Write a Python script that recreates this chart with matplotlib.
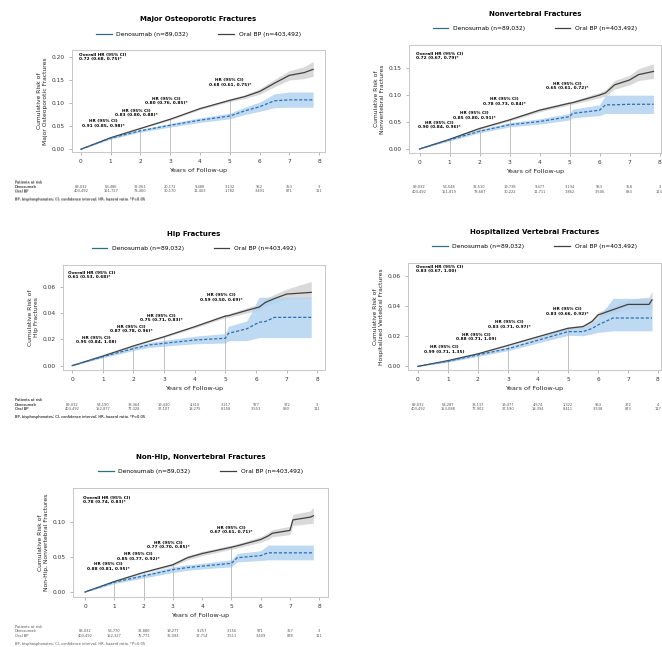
import numpy as np
import matplotlib.pyplot as plt
from matplotlib.lines import Line2D

# cumulative risk curves, Denosumab vs oral bisphosphonates, 5 fracture outcomes

W, H = 662, 647

years = [0, 1, 2, 3, 4, 5, 6, 7, 8]
marker_years = [1, 2, 3, 5]

# ---- Major osteoporotic fractures
mof_t = [0, 1, 2, 3, 4, 5, 5.5, 6, 6.5, 7, 7.5, 7.8]
mof_bp = [0, 0.025, 0.045, 0.065, 0.088, 0.106, 0.114, 0.125, 0.143, 0.160, 0.166, 0.173]
mof_bp_lo = [0, 0.024, 0.044, 0.063, 0.086, 0.103, 0.110, 0.119, 0.135, 0.150, 0.153, 0.158]
mof_bp_hi = [0, 0.026, 0.046, 0.067, 0.090, 0.109, 0.118, 0.131, 0.151, 0.170, 0.179, 0.190]
mof_den = [0, 0.024, 0.040, 0.052, 0.063, 0.072, 0.083, 0.092, 0.105, 0.107, 0.107, 0.107]
mof_den_lo = [0, 0.022, 0.037, 0.048, 0.058, 0.066, 0.075, 0.082, 0.090, 0.091, 0.091, 0.091]
mof_den_hi = [0, 0.026, 0.043, 0.056, 0.068, 0.078, 0.091, 0.102, 0.120, 0.124, 0.124, 0.124]

# ---- Nonvertebral fractures
nvf_t = [0, 1, 2, 3, 4, 5, 5.1, 6, 6.2, 6.5, 7, 7.3, 7.8]
nvf_bp = [0, 0.018, 0.038, 0.054, 0.072, 0.085, 0.086, 0.100, 0.104, 0.119, 0.128, 0.138, 0.144]
nvf_bp_lo = [0, 0.017, 0.036, 0.052, 0.069, 0.082, 0.083, 0.095, 0.098, 0.111, 0.119, 0.127, 0.131]
nvf_bp_hi = [0, 0.019, 0.040, 0.056, 0.075, 0.088, 0.089, 0.105, 0.110, 0.127, 0.137, 0.149, 0.158]
nvf_den = [0, 0.017, 0.033, 0.045, 0.051, 0.060, 0.066, 0.072, 0.082, 0.082, 0.083, 0.083, 0.083]
nvf_den_lo = [0, 0.015, 0.030, 0.041, 0.046, 0.054, 0.058, 0.062, 0.066, 0.066, 0.066, 0.066, 0.066]
nvf_den_hi = [0, 0.019, 0.036, 0.049, 0.056, 0.066, 0.074, 0.082, 0.100, 0.100, 0.100, 0.100, 0.100]

# ---- Hip fractures
hip_t = [0, 1, 2, 2.5, 3, 4, 5, 5.1, 5.7, 6.1, 6.3, 6.6, 7, 7.8]
hip_bp = [0, 0.0073, 0.015, 0.0185, 0.022, 0.0296, 0.0377, 0.038, 0.042, 0.0445, 0.048, 0.051, 0.0544, 0.0557]
hip_bp_lo = [0, 0.0069, 0.0145, 0.018, 0.0213, 0.0287, 0.0365, 0.0367, 0.040, 0.0422, 0.0452, 0.0478, 0.0508, 0.051]
hip_bp_hi = [0, 0.0077, 0.0155, 0.019, 0.0227, 0.0305, 0.0389, 0.0393, 0.044, 0.0468, 0.0508, 0.0542, 0.0582, 0.064]
hip_den = [0, 0.0068, 0.013, 0.0157, 0.017, 0.0195, 0.0208, 0.0246, 0.028, 0.033, 0.0335, 0.0367, 0.0367, 0.0367]
hip_den_lo = [0, 0.0060, 0.0115, 0.0138, 0.0148, 0.0166, 0.0172, 0.019, 0.019, 0.0213, 0.0213, 0.0213, 0.0213, 0.0213]
hip_den_hi = [0, 0.0076, 0.0145, 0.0176, 0.0192, 0.0224, 0.0244, 0.030, 0.034, 0.052, 0.052, 0.052, 0.052, 0.052]

# ---- Hospitalized vertebral fractures
hvf_t = [0, 1, 2, 3, 4, 5, 5.5, 5.8, 6, 6.5, 7, 7.7, 7.8]
hvf_bp = [0, 0.0038, 0.0083, 0.0139, 0.0196, 0.0252, 0.0263, 0.0297, 0.034, 0.0375, 0.041, 0.041, 0.044]
hvf_bp_lo = [0, 0.0036, 0.0079, 0.0134, 0.0189, 0.0243, 0.0252, 0.0283, 0.0322, 0.0352, 0.0380, 0.0380, 0.0380]
hvf_bp_hi = [0, 0.0040, 0.0087, 0.0144, 0.0203, 0.0261, 0.0274, 0.0311, 0.0358, 0.0398, 0.0440, 0.0460, 0.0500]
hvf_den = [0, 0.0034, 0.0076, 0.0117, 0.0173, 0.0230, 0.0230, 0.0250, 0.0274, 0.032, 0.032, 0.032, 0.032]
hvf_den_lo = [0, 0.0028, 0.0066, 0.0104, 0.0155, 0.0205, 0.0203, 0.0215, 0.0225, 0.0235, 0.0235, 0.0235, 0.0235]
hvf_den_hi = [0, 0.0040, 0.0086, 0.0130, 0.0191, 0.0255, 0.0257, 0.0285, 0.0320, 0.045, 0.045, 0.045, 0.045]

# ---- Non-hip, nonvertebral fractures
nhn_t = [0, 1, 2, 3, 3.5, 4, 5, 5.2, 6, 6.25, 6.4, 7, 7.1, 7.7, 7.8]
nhn_bp = [0, 0.015, 0.028, 0.039, 0.049, 0.055, 0.064, 0.066, 0.075, 0.080, 0.084, 0.088, 0.103, 0.107, 0.109]
nhn_bp_lo = [0, 0.014, 0.027, 0.037, 0.046, 0.052, 0.061, 0.063, 0.071, 0.075, 0.079, 0.082, 0.095, 0.098, 0.098]
nhn_bp_hi = [0, 0.016, 0.029, 0.041, 0.052, 0.058, 0.067, 0.069, 0.079, 0.085, 0.089, 0.094, 0.111, 0.116, 0.121]
nhn_den = [0, 0.014, 0.023, 0.032, 0.035, 0.037, 0.041, 0.049, 0.052, 0.056, 0.056, 0.056, 0.056, 0.056, 0.056]
nhn_den_lo = [0, 0.012, 0.020, 0.028, 0.031, 0.033, 0.036, 0.043, 0.045, 0.046, 0.046, 0.046, 0.046, 0.046, 0.046]
nhn_den_hi = [0, 0.016, 0.026, 0.036, 0.039, 0.041, 0.046, 0.055, 0.059, 0.067, 0.067, 0.067, 0.067, 0.067, 0.067]

# hazard ratio labels (overall, yr1, yr2, yr3, yr5)
mof_hr = ["0.72 (0.68, 0.75)*", "0.91 (0.85, 0.98)*", "0.83 (0.80, 0.88)*", "0.80 (0.76, 0.85)*", "0.68 (0.61, 0.75)*"]
nvf_hr = ["0.72 (0.67, 0.79)*", "0.90 (0.84, 0.96)*", "0.85 (0.80, 0.91)*", "0.78 (0.73, 0.84)*", "0.65 (0.61, 0.72)*"]
hip_hr = ["0.61 (0.53, 0.68)*", "0.95 (0.84, 1.08)", "0.87 (0.78, 0.96)*", "0.75 (0.71, 0.83)*", "0.59 (0.50, 0.69)*"]
hvf_hr = ["0.83 (0.67, 1.00)", "0.99 (0.71, 1.35)", "0.88 (0.71, 1.09)", "0.83 (0.71, 0.97)*", "0.83 (0.66, 0.92)*"]
nhn_hr = ["0.78 (0.74, 0.83)*", "0.88 (0.81, 0.95)*", "0.85 (0.77, 0.92)*", "0.77 (0.70, 0.85)*", "0.67 (0.61, 0.71)*"]

# patients at risk by year
mof_risk_den = ["89,032", "53,486", "32,063", "20,172", "9,488", "3,132", "952", "353", "3"]
mof_risk_bp = ["403,492", "151,727", "73,400", "30,170", "11,403", "1,782", "3,491", "871", "111"]
nvf_risk_den = ["89,032", "53,548", "32,510", "19,738", "9,477", "3,134", "953", "358", "3"]
nvf_risk_bp = ["403,492", "151,819", "73,687", "30,222", "11,711", "7,862", "3,506", "883", "113"]
hip_risk_den = ["89,032", "54,190", "33,364", "19,430", "4,310", "3,217", "977", "372", "3"]
hip_risk_bp = ["403,492", "152,877", "77,328", "37,107", "18,275", "8,158", "3,553", "890", "111"]
hvf_risk_den = ["89,032", "54,287", "33,137", "19,477", "4,574", "1,322", "953", "372", "4"]
hvf_risk_bp = ["403,492", "153,088", "77,902", "37,590", "18,394", "8,411", "3,538", "873", "117"]
nhn_risk_den = ["89,032", "53,770", "32,880", "19,277", "9,257", "3,156", "971", "357", "3"]
nhn_risk_bp = ["403,492", "152,327", "75,771", "36,094", "17,714", "7,511", "3,409", "878", "111"]

DEN_C = "#2e6fb0"
DEN_FILL = "#b3d3f0"
BP_C = "#404040"
BP_FILL = "#d9d9d9"


def box(l, t, r, b):
    return [l / W, 1 - b / H, (r - l) / W, (b - t) / H]


def panel(fig, rect, title, ylabel, t, bp, bp_lo, bp_hi, den, den_lo, den_hi,
          xlim, ylim, yticks, hr, hr_pos, risk_den, risk_bp):
    ax = fig.add_axes(box(*rect))
    ax.fill_between(t, bp_lo, bp_hi, color=BP_FILL, lw=0, zorder=1)
    ax.fill_between(t, den_lo, den_hi, color=DEN_FILL, alpha=0.85, lw=0, zorder=2)
    ax.plot(t, bp, color=BP_C, lw=0.9, zorder=4)
    ax.plot(t, den, color=DEN_C, lw=0.9, ls=(0, (2.5, 1.5)), zorder=5)

    for yr in marker_years:
        top = np.interp(yr, t, bp)
        ax.plot([yr, yr], [ylim[0], top], color="#b5b5b5", lw=0.6, zorder=3)

    ax.text(hr_pos[0][0], hr_pos[0][1], "Overall HR (95% CI)\n" + hr[0], fontsize=3.1,
            fontweight="bold", ha="left", va="center", linespacing=1.2)
    for (x, y), s in zip(hr_pos[1:], hr[1:]):
        ax.text(x, y, "HR (95% CI)\n" + s, fontsize=3.1, fontweight="bold",
                ha="center", va="center", linespacing=1.2, zorder=6)

    ax.set_xlim(*xlim)
    ax.set_ylim(*ylim)
    ax.set_xticks(years)
    ax.set_yticks(yticks)
    ax.set_yticklabels([f"{v:.2f}" for v in yticks])
    ax.tick_params(labelsize=4.2, length=2, width=0.5, color="#999999", pad=3,
                   labelcolor="#333333")
    for s in ax.spines.values():
        s.set_color("#c8c8c8")
        s.set_linewidth(0.7)
    ax.set_xlabel("Years of Follow-up", fontsize=4.6, labelpad=3, color="#222222")
    ax.set_ylabel("Cumulative Risk of\n" + ylabel, fontsize=4.3, labelpad=3,
                  color="#222222", linespacing=1.1)
    ax.set_title(title, fontsize=5, fontweight="bold", pad=21)

    handles = [Line2D([], [], color="#2f6f80", lw=0.9),
               Line2D([], [], color=BP_C, lw=0.9)]
    ax.legend(handles, ["Denosumab (n=89,032)", "Oral BP (n=403,492)"], ncol=2,
              loc="lower center", bbox_to_anchor=(0.5, 1.09), frameon=False,
              fontsize=4.3, handlelength=2.6, columnspacing=5, borderpad=0.2)

    # patients at risk table
    fb = ax.get_position()
    left = 15 / W
    y0 = fb.y0 - 30 / H
    fig.text(left, y0, "Patients at risk", fontsize=2.6, color="#555555", va="center")
    fig.text(left, y0 - 4.5 / H, "Denosumab", fontsize=2.6, color="#555555", va="center")
    fig.text(left, y0 - 9 / H, "Oral BP", fontsize=2.6, color="#555555", va="center")
    trans = ax.get_xaxis_transform()
    for yr, a, b in zip(years, risk_den, risk_bp):
        yd = (y0 - 4.5 / H - fb.y0) / fb.height
        yb = (y0 - 9 / H - fb.y0) / fb.height
        ax.text(yr, yd, a, transform=trans, fontsize=2.6, color="#555555",
                ha="center", va="center", clip_on=False)
        ax.text(yr, yb, b, transform=trans, fontsize=2.6, color="#555555",
                ha="center", va="center", clip_on=False)
    fig.text(left, y0 - 17 / H,
             "BP, bisphosphonates; CI, confidence interval; HR, hazard ratio. *P<0.05",
             fontsize=2.6, color="#555555", va="center")
    return ax


fig = plt.figure(figsize=(6.62, 6.47), dpi=100)

panel(fig, (72, 50, 325, 152), "Major Osteoporotic Fractures", "Major Osteoporotic Fractures",
      mof_t, mof_bp, mof_bp_lo, mof_bp_hi, mof_den, mof_den_lo, mof_den_hi,
      (-0.3, 8.2), (-0.006, 0.215), [0.0, 0.05, 0.10, 0.15, 0.20], mof_hr,
      [(-0.07, 0.2), (0.75, 0.056), (1.87, 0.079), (2.87, 0.105), (5.0, 0.145)],
      mof_risk_den, mof_risk_bp)

panel(fig, (409, 45, 661, 153), "Nonvertebral Fractures", "Nonvertebral Fractures",
      nvf_t, nvf_bp, nvf_bp_lo, nvf_bp_hi, nvf_den, nvf_den_lo, nvf_den_hi,
      (-0.35, 8.05), (-0.0074, 0.193), [0.0, 0.05, 0.10, 0.15], nvf_hr,
      [(-0.11, 0.173), (0.67, 0.0446), (1.83, 0.063), (2.83, 0.088), (4.94, 0.117)],
      nvf_risk_den, nvf_risk_bp)

panel(fig, (63, 265, 325, 370), "Hip Fractures", "Hip Fractures",
      hip_t, hip_bp, hip_bp_lo, hip_bp_hi, hip_den, hip_den_lo, hip_den_hi,
      (-0.3, 8.25), (-0.0033, 0.0765), [0.0, 0.02, 0.04, 0.06], hip_hr,
      [(-0.15, 0.069), (0.8, 0.0195), (1.92, 0.028), (2.92, 0.0365), (4.88, 0.052)],
      hip_risk_den, hip_risk_bp)

panel(fig, (408, 263, 661, 370), "Hospitalized Vertebral Fractures",
      "Hospitalized Vertebral Fractures",
      hvf_t, hvf_bp, hvf_bp_lo, hvf_bp_hi, hvf_den, hvf_den_lo, hvf_den_hi,
      (-0.33, 8.1), (-0.0024, 0.0684), [0.0, 0.02, 0.04, 0.06], hvf_hr,
      [(-0.05, 0.0645), (0.87, 0.0112), (1.93, 0.0196), (3.04, 0.0279), (4.99, 0.0364)],
      hvf_risk_den, hvf_risk_bp)

panel(fig, (73, 488, 328, 597), "Non-Hip, Nonvertebral Fractures",
      "Non-Hip, Nonvertebral Fractures",
      nhn_t, nhn_bp, nhn_bp_lo, nhn_bp_hi, nhn_den, nhn_den_lo, nhn_den_hi,
      (-0.41, 8.3), (-0.0071, 0.1486), [0.0, 0.05, 0.10], nhn_hr,
      [(-0.08, 0.132), (0.8, 0.0367), (1.82, 0.051), (2.84, 0.0676), (5.0, 0.089)],
      nhn_risk_den, nhn_risk_bp)

fig.savefig("out.png", dpi=100)
